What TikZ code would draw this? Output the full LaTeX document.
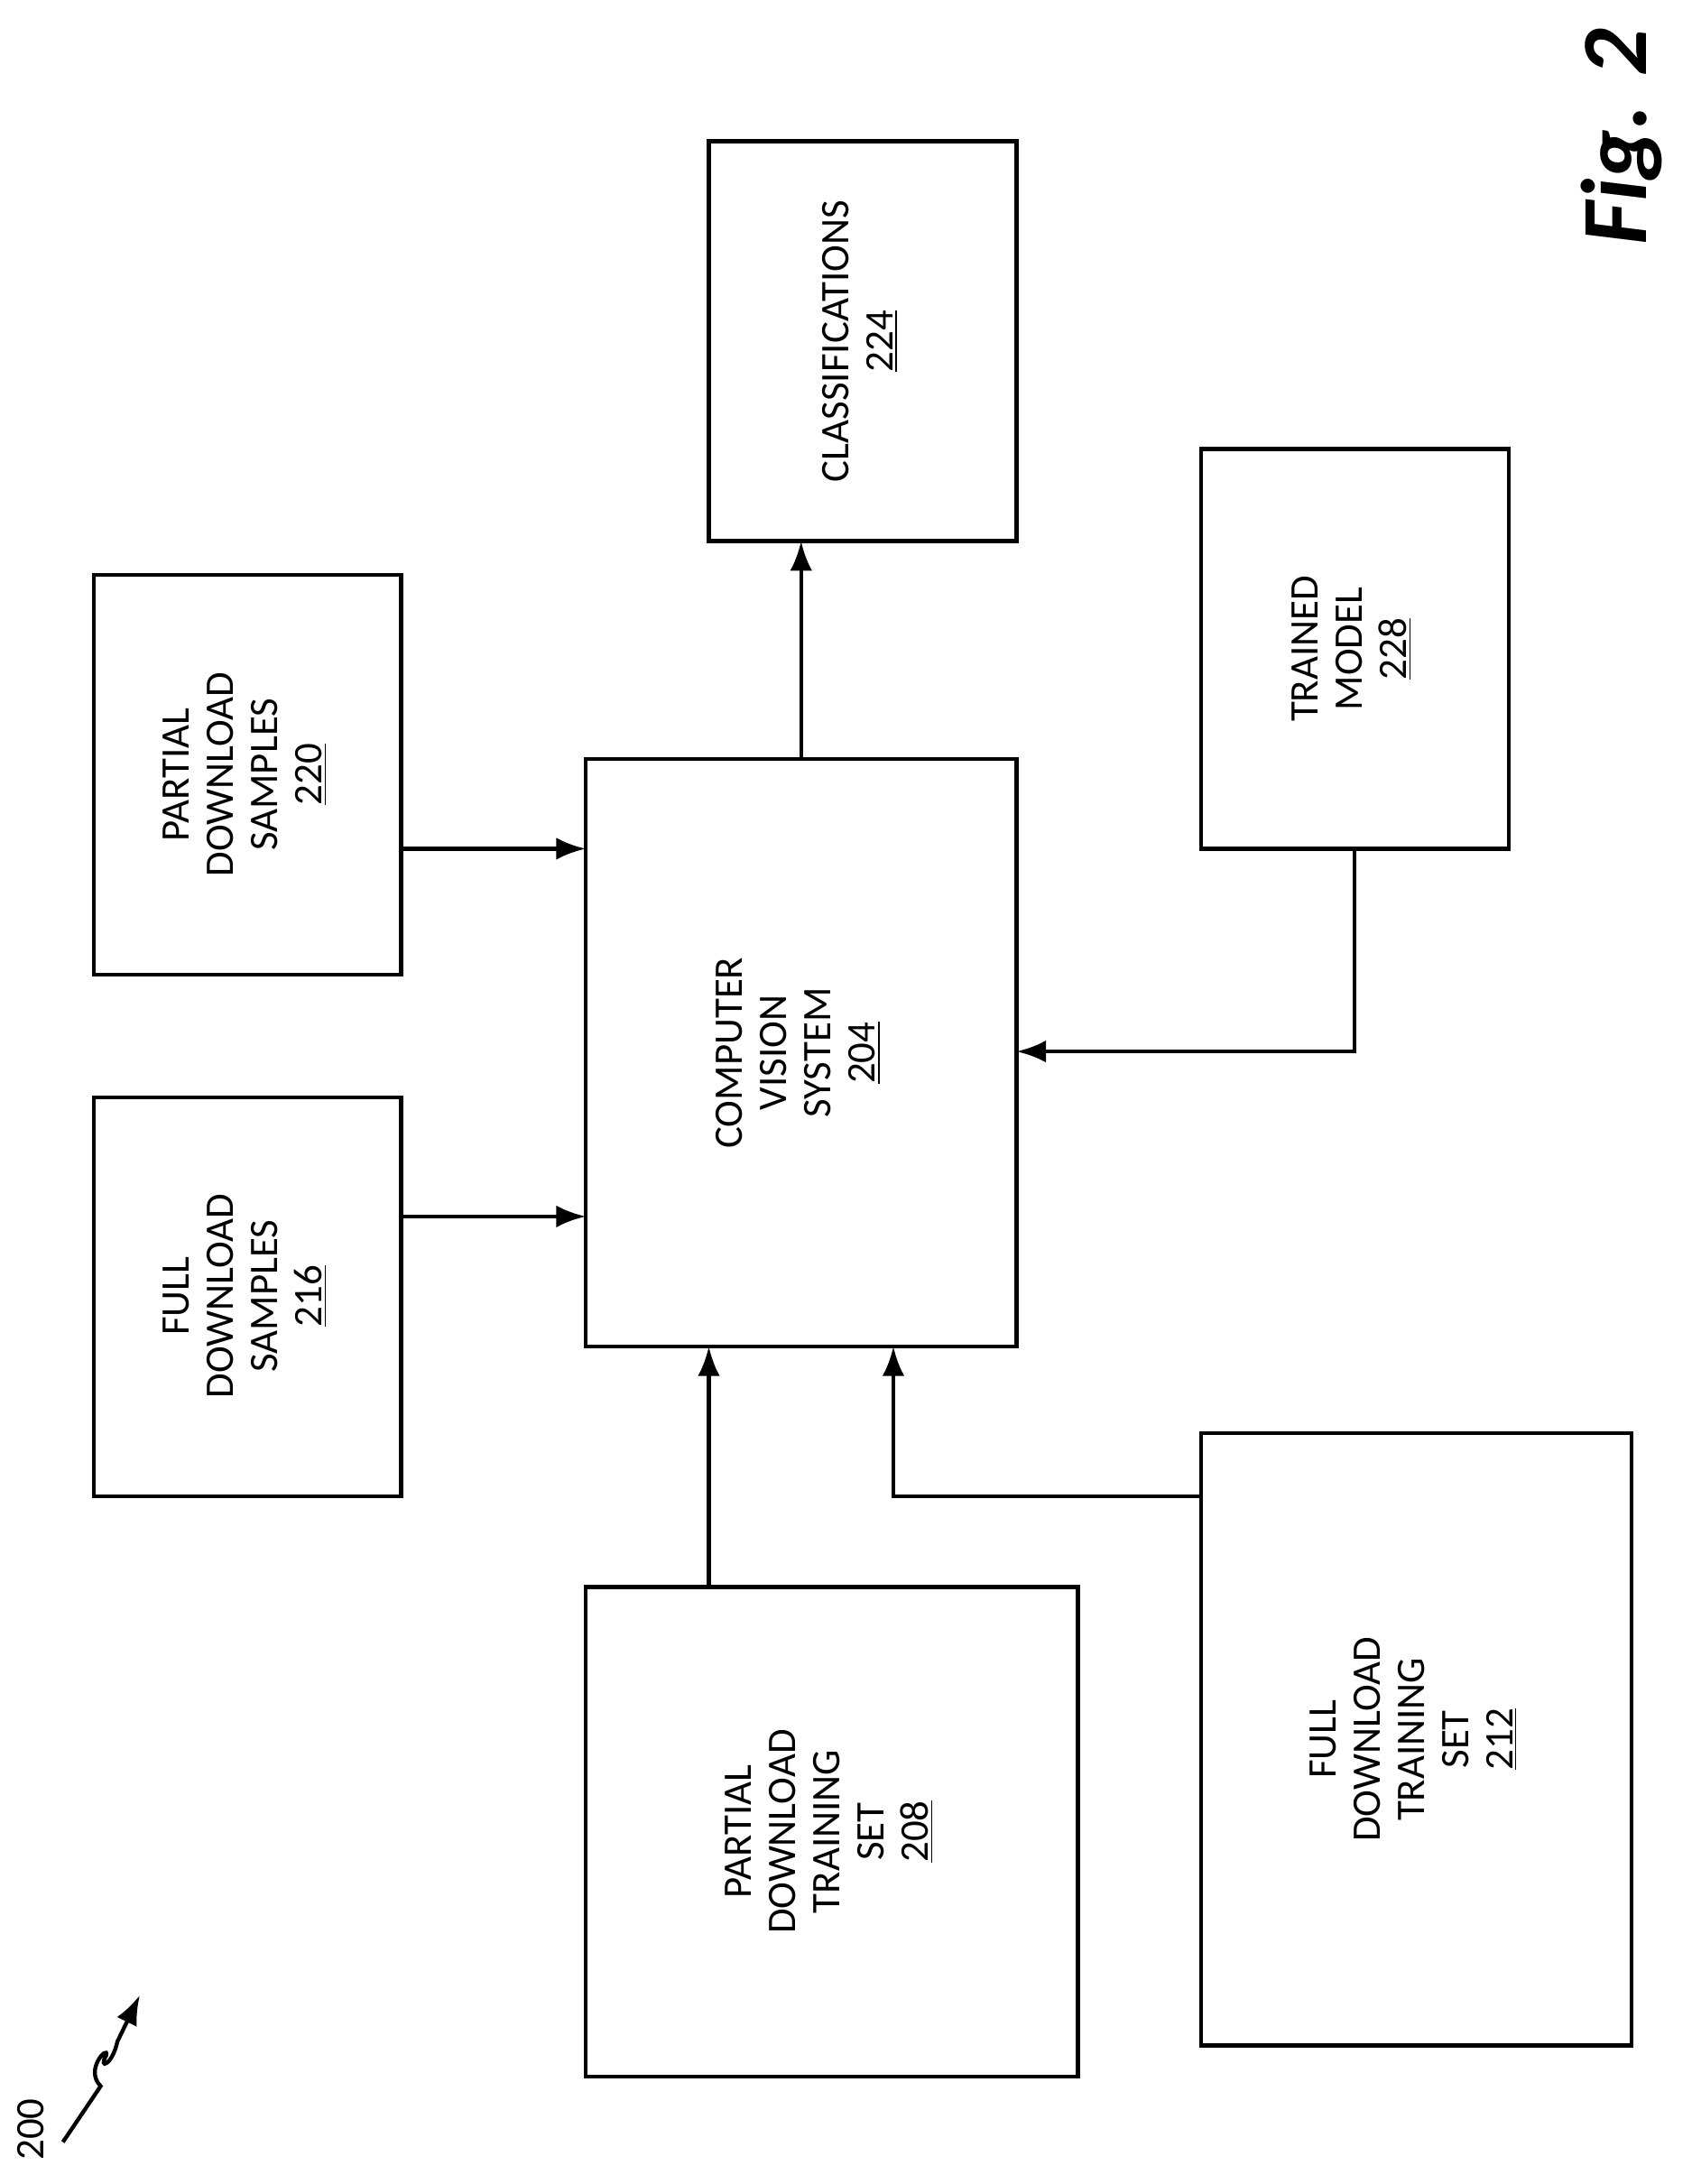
\documentclass[tikz,border=0pt]{standalone}
\usepackage{fontspec}
\setmainfont{Carlito}
\usetikzlibrary{arrows.meta}
\begin{document}
\begin{tikzpicture}[x=0.02cm,y=-0.02cm,
  box/.style={draw,line width=1.6pt},
  lab/.style={rotate=90,align=center,font=\fontsize{16.5}{18}\selectfont},
  arr/.style={line width=1.6pt,-{Latex[length=12pt,width=9pt]}}]
\useasboundingbox (0,0) rectangle (1210,1562);
\draw[box] (507,101) rectangle (727,387);
\node[lab] (c224) at (615,244) {CLASSIFICATIONS\\\underline{224}};
\draw[box] (67,411) rectangle (287,697);
\node[lab] (p220) at (175,554) {PARTIAL\\DOWNLOAD\\SAMPLES\\\underline{220}};
\draw[box] (67,785) rectangle (287,1070);
\node[lab] (f216) at (175,927) {FULL\\DOWNLOAD\\SAMPLES\\\underline{216}};
\draw[box] (419,543) rectangle (727,963);
\node[lab] (cv) at (571,753) {COMPUTER\\VISION\\SYSTEM\\\underline{204}};
\draw[box] (859,321) rectangle (1079,607);
\node[lab] (tm) at (967,464) {TRAINED\\MODEL\\\underline{228}};
\draw[box] (419,1135) rectangle (771,1485);
\node[lab] (p208) at (593,1310) {PARTIAL\\DOWNLOAD\\TRAINING\\SET\\\underline{208}};
\draw[box] (859,1025) rectangle (1167,1463);
\node[lab] (f212) at (1011,1244) {FULL\\DOWNLOAD\\TRAINING\\SET\\\underline{212}};
\coordinate (a1) at (573,543); \coordinate (a2) at (573,387);
\draw[arr] (a1) -- (a2);
\coordinate (b1) at (287,607); \coordinate (b2) at (419,607);
\draw[arr] (b1) -- (b2);
\coordinate (d1) at (287,870); \coordinate (d2) at (419,870);
\draw[arr] (d1) -- (d2);
\coordinate (e1) at (969,607); \coordinate (e2) at (727,752);
\draw[arr] (e1) |- (e2);
\coordinate (g1) at (507,1135); \coordinate (g2) at (507,963);
\draw[arr] (g1) -- (g2);
\coordinate (h1) at (859,1070); \coordinate (h2) at (639,963);
\draw[arr] (h1) -| (h2);
\node[rotate=90,font=\fontsize{38}{38}\selectfont\bfseries\itshape] (fig) at (1160,98) {Fig. 2};
\node[rotate=90,font=\fontsize{16.5}{16.5}\selectfont] (n200) at (22,1523) {200};
\coordinate (s1) at (45,1532); \coordinate (s2) at (100,1427);
\draw[line width=1.6pt,-{Latex[length=12pt,width=9pt]}] (s1) -- (72,1492) .. controls (60,1480) and (78,1462) .. (76,1470) .. controls (70,1480) and (80,1478) .. (84,1460) -- (s2);
\end{tikzpicture}
\end{document}
